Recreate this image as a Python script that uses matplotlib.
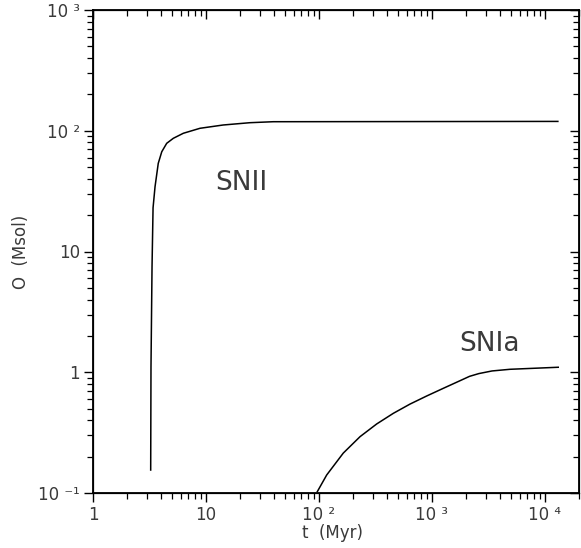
import matplotlib
matplotlib.use("Agg")
import matplotlib.pyplot as plt
from matplotlib.ticker import LogLocator, FixedLocator, NullFormatter

# SNII cumulative oxygen yield
t_snii = [3.24, 3.26, 3.33, 3.40, 3.54, 3.78, 4.06, 4.49, 5.14, 6.30, 8.85,
          14.2, 24.5, 39.4, 13000.0]
m_snii = [0.155, 1.11, 7.5, 23.0, 34.4, 53.7, 67.0, 78.7, 86.6, 95.3, 104.8,
          111.6, 116.6, 118.8, 119.5]

# SNIa cumulative oxygen yield
t_snia = [96.6, 117.0, 164.0, 231.0, 324.0, 455.0, 639.0, 898.0, 1259.0,
          1770.0, 2150.0, 2600.0, 3400.0, 4900.0, 13100.0]
m_snia = [0.1026, 0.141, 0.214, 0.293, 0.373, 0.457, 0.545, 0.636, 0.736,
          0.851, 0.925, 0.975, 1.025, 1.058, 1.10]

x_ticks = [1, 10, 100, 1000, 10000]
x_labels = ["1", "10", "10 ²", "10 ³", "10 ⁴"]
y_ticks = [0.1, 1, 10, 100, 1000]
y_labels = ["10 ⁻¹", "1", "10", "10 ²", "10 ³"]

TEXT = "#3a3a3a"


def _minor():
    return LogLocator(base=10, subs=range(2, 10), numticks=20)


fig = plt.figure(figsize=(5.81, 5.48), dpi=100)
ax = fig.add_axes([93 / 581, 55 / 548, 486 / 581, 483 / 548])
ax.set_xscale("log")
ax.set_yscale("log")
ax.set_xlim(1, 2.0e4)
ax.set_ylim(0.1, 1000)

ax.plot(t_snii, m_snii, color="black", lw=1.1)
ax.plot(t_snia, m_snia, color="black", lw=1.1)

ax.text(20.7, 37.2, "SNII", fontsize=19, color=TEXT, ha="center", va="center")
ax.text(3260, 1.72, "SNIa", fontsize=19, color=TEXT, ha="center", va="center")

for side in ax.spines.values():
    side.set_linewidth(1.3)

ax.xaxis.set_major_locator(FixedLocator(x_ticks))
ax.xaxis.set_minor_locator(_minor())
ax.set_xticklabels(x_labels)
ax.xaxis.set_minor_formatter(NullFormatter())
ax.yaxis.set_major_locator(FixedLocator(y_ticks))
ax.yaxis.set_minor_locator(_minor())
ax.set_yticklabels(y_labels)
ax.yaxis.set_minor_formatter(NullFormatter())

ax.tick_params(which="major", direction="out", length=6.5, width=1.0,
               labelsize=12, labelcolor=TEXT, pad=3)
ax.tick_params(which="minor", direction="out", length=4.2, width=0.9)

# mirrored ticks on top / right pointing inward
ax_top = ax.twiny()
ax_top.set_xscale("log")
ax_top.set_xlim(ax.get_xlim())
ax_top.xaxis.set_major_locator(FixedLocator(x_ticks))
ax_top.xaxis.set_minor_locator(_minor())
ax_top.xaxis.set_major_formatter(NullFormatter())
ax_top.xaxis.set_minor_formatter(NullFormatter())
ax_top.tick_params(which="major", direction="in", length=6.5, width=1.0)
ax_top.tick_params(which="minor", direction="in", length=4.2, width=0.9)

ax_right = ax.twinx()
ax_right.set_yscale("log")
ax_right.set_ylim(ax.get_ylim())
ax_right.yaxis.set_major_locator(FixedLocator(y_ticks))
ax_right.yaxis.set_minor_locator(_minor())
ax_right.yaxis.set_major_formatter(NullFormatter())
ax_right.yaxis.set_minor_formatter(NullFormatter())
ax_right.tick_params(which="major", direction="in", length=6.5, width=1.0)
ax_right.tick_params(which="minor", direction="in", length=4.2, width=0.9)

fig.text(332 / 581, 1 - 533 / 548, "t  (Myr)", fontsize=12, color=TEXT,
         ha="center", va="center")
fig.text(21 / 581, 1 - 252 / 548, "O  (Msol)", fontsize=12, color=TEXT,
         ha="center", va="center", rotation=90)

fig.savefig("out.png", dpi=100, facecolor="white")
